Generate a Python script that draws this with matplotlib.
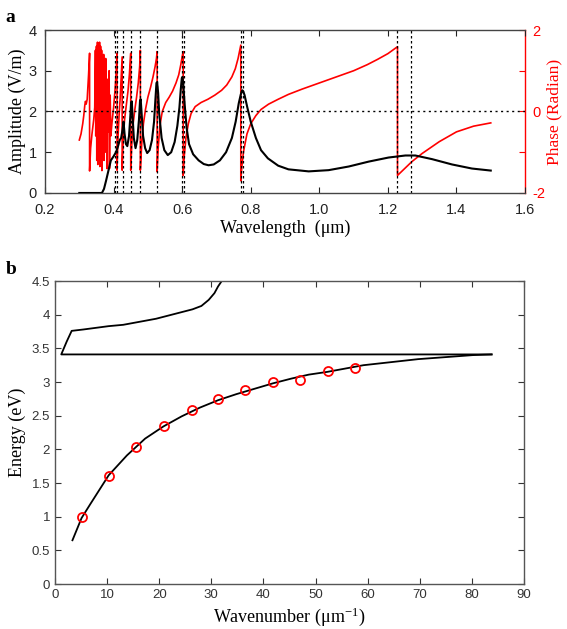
import matplotlib
matplotlib.use("Agg")
import matplotlib.pyplot as plt

plt.rcParams["mathtext.fontset"] = "custom"
plt.rcParams["mathtext.rm"] = "Liberation Serif"
plt.rcParams["mathtext.it"] = "Liberation Serif:italic"

SERIF = "Liberation Serif"
SANS = "Liberation Sans"

# ---------------------------------------------------------------------------
# Panel a: amplitude and phase vs wavelength
# ---------------------------------------------------------------------------
amp_wl = [0.300, 0.366, 0.372, 0.378, 0.385, 0.392, 0.400, 0.407, 0.413, 0.418,
          0.422, 0.426, 0.429, 0.432, 0.436, 0.440, 0.445, 0.449, 0.451, 0.453,
          0.455, 0.459, 0.464, 0.469, 0.474, 0.477, 0.479, 0.481, 0.486, 0.492,
          0.498, 0.505, 0.512, 0.518, 0.522, 0.525, 0.527, 0.530, 0.533, 0.540,
          0.548, 0.558, 0.568, 0.578, 0.586, 0.592, 0.596, 0.599, 0.601, 0.603,
          0.607, 0.613, 0.620, 0.632, 0.648, 0.663, 0.677, 0.692, 0.710, 0.728,
          0.745, 0.756, 0.765, 0.771, 0.775, 0.778, 0.782, 0.790, 0.800, 0.815,
          0.830, 0.850, 0.880, 0.910, 0.969, 1.027, 1.086, 1.144, 1.202, 1.251,
          1.280, 1.329, 1.387, 1.445, 1.500]
amp_val = [0.00, 0.00, 0.10, 0.30, 0.55, 0.80, 0.90, 1.00, 1.15, 1.30,
           1.35, 1.55, 1.75, 1.45, 1.20, 1.15, 1.40, 1.90, 2.20, 2.25,
           1.95, 1.35, 1.10, 1.30, 1.80, 2.25, 2.30, 2.05, 1.40, 1.10,
           0.98, 1.05, 1.30, 1.75, 2.30, 2.70, 2.72, 2.45, 1.95, 1.35,
           1.05, 0.93, 1.00, 1.25, 1.65, 2.10, 2.55, 2.82, 2.85, 2.70,
           2.20, 1.60, 1.20, 0.95, 0.80, 0.71, 0.68, 0.70, 0.80, 1.00,
           1.35, 1.75, 2.20, 2.42, 2.52, 2.50, 2.40, 2.10, 1.75, 1.35,
           1.05, 0.85, 0.67, 0.58, 0.53, 0.56, 0.65, 0.77, 0.87, 0.92,
           0.92, 0.83, 0.70, 0.60, 0.55]

phase_wl = [0.300, 0.305, 0.310, 0.313, 0.316, 0.318, 0.320, 0.323, 0.327, 0.330,
            0.330, 0.333, 0.337, 0.342, 0.345,
            0.347, 0.348, 0.350, 0.351, 0.353, 0.354, 0.356, 0.357, 0.359, 0.360,
            0.362, 0.363, 0.365, 0.366, 0.368, 0.369, 0.371, 0.372, 0.374, 0.375,
            0.377, 0.378, 0.380, 0.381, 0.383, 0.385, 0.387, 0.388, 0.390, 0.392,
            0.395, 0.400, 0.404, 0.407, 0.410, 0.410, 0.413, 0.416, 0.419, 0.422,
            0.425, 0.425, 0.428, 0.432, 0.437, 0.442, 0.446, 0.450, 0.450, 0.453,
            0.457, 0.462, 0.467, 0.472, 0.476, 0.478, 0.478, 0.482, 0.487, 0.493,
            0.500, 0.508, 0.515, 0.521, 0.525, 0.527, 0.527, 0.530, 0.535, 0.542,
            0.552, 0.562, 0.572, 0.582, 0.590, 0.596, 0.600, 0.603, 0.603, 0.606,
            0.611, 0.618, 0.626, 0.638, 0.655, 0.675, 0.695, 0.715, 0.730, 0.745,
            0.755, 0.763, 0.768, 0.771, 0.771, 0.774, 0.779, 0.789, 0.800, 0.815,
            0.830, 0.852, 0.880, 0.910, 0.950, 1.000, 1.050, 1.100, 1.140, 1.170,
            1.200, 1.228, 1.228, 1.270, 1.300, 1.350, 1.400, 1.450, 1.500]
phase_val = [-0.70, -0.55, -0.30, -0.10, 0.15, 0.25, 0.18, 0.30, 0.90, 1.43,
             -1.46, -0.90, -0.55, -0.20, 0.10,
             1.50, -0.60, 1.60, -1.20, 1.70, -1.30, 1.65, -0.90, 1.70, -1.35,
             1.60, -1.00, 1.50, -1.45, 1.20, -0.70, 1.40, -1.20, 0.90, -1.00,
             1.30, -0.80, 0.80, -1.40, 0.60, -0.50, 1.00, -1.40, 0.40, -0.60,
             -0.30, 0.10, 0.50, 0.90, 1.43, -1.44, -0.60, -0.10, 0.30, 0.80,
             1.34, -1.44, -0.70, -0.20, 0.15, 0.50, 0.90, 1.43, -1.44, -0.80,
             -0.30, 0.05, 0.35, 0.70, 1.10, 1.50, -1.44, -0.80, -0.30, 0.05,
             0.35, 0.60, 0.85, 1.10, 1.30, 1.47, -1.48, -0.90, -0.35, 0.00,
             0.22, 0.35, 0.50, 0.70, 0.90, 1.15, 1.35, 1.47, -1.57, -1.10,
             -0.65, -0.30, -0.05, 0.12, 0.22, 0.30, 0.40, 0.52, 0.65, 0.85,
             1.05, 1.30, 1.50, 1.63, -1.70, -1.35, -0.98, -0.55, -0.30, -0.10,
             0.05, 0.18, 0.30, 0.42, 0.55, 0.70, 0.85, 1.00, 1.15, 1.28,
             1.42, 1.59, -1.57, -1.23, -1.03, -0.74, -0.50, -0.36, -0.28]

resonance_wl = [0.403, 0.411, 0.426, 0.451, 0.478, 0.527, 0.600, 0.604,
                0.771, 0.776, 1.228, 1.268]

wl_ticks = [0.2, 0.4, 0.6, 0.8, 1.0, 1.2, 1.4, 1.6]
wl_ticklabels = ["0.2", "0.4", "0.6", "0.8", "1.0", "1.2", "1.4", "1.6"]

# ---------------------------------------------------------------------------
# Panel b: dispersion (energy vs wavenumber)
# ---------------------------------------------------------------------------
lower_k = [3.35, 5.1, 6.8, 10.3, 13.8, 17.3, 20.8, 24.3, 27.8, 31.3, 34.8, 38.3,
           41.8, 45.3, 48.7, 52.2, 55.7, 59.2, 62.7, 66.2, 69.7, 73.2, 76.7,
           80.2, 83.8]
lower_e = [0.65, 0.98, 1.19, 1.615, 1.91, 2.16, 2.34, 2.49, 2.62, 2.73, 2.82,
           2.90, 2.98, 3.05, 3.11, 3.15, 3.20, 3.25, 3.28, 3.31, 3.34, 3.36,
           3.38, 3.40, 3.41]

upper_k = [83.8, 1.2, 2.24, 3.2, 5.4, 10.3, 13.1, 15.9, 19.4, 22.9, 26.4, 28.1,
           29.5, 30.6, 31.3, 32.0]
upper_e = [3.41, 3.41, 3.60, 3.76, 3.78, 3.83, 3.85, 3.89, 3.94, 4.01, 4.08,
           4.13, 4.22, 4.32, 4.42, 4.50]

meas_k = [5.1, 10.3, 15.6, 20.9, 26.2, 31.3, 36.5, 41.8, 47.1, 52.4, 57.6]
meas_e = [1.00, 1.60, 2.03, 2.35, 2.59, 2.75, 2.88, 3.00, 3.03, 3.16, 3.21]

# ---------------------------------------------------------------------------
# Plot
# ---------------------------------------------------------------------------
fig = plt.figure(figsize=(5.67, 6.29), dpi=100)

ax = fig.add_axes([0.0794, 0.6932, 0.8466, 0.2591])
ax2 = ax.twinx()

for x in resonance_wl:
    ax.axvline(x, color="black", linestyle=(0, (2, 2)), linewidth=0.9, zorder=1)
ax.axhline(2, color="black", linestyle=(0, (1.5, 2.5)), linewidth=1.0, zorder=1)

ax2.plot(phase_wl, phase_val, color="red", linewidth=1.2, zorder=2)
ax.plot(amp_wl, amp_val, color="black", linewidth=1.5, zorder=3)
ax.set_zorder(ax2.get_zorder() + 1)
ax.patch.set_visible(False)

ax.set_xlim(0.2, 1.6)
ax.set_ylim(0, 4)
ax2.set_ylim(-2, 2)
ax.set_xticks(wl_ticks)
ax.set_xticklabels(wl_ticklabels)
ax.set_yticks([0, 1, 2, 3, 4])
ax2.set_yticks([-2, -1, 0, 1, 2])
ax2.set_yticklabels(["-2", "", "0", "", "2"])

ax.tick_params(direction="in", top=True, right=False, length=4, width=0.8,
               labelsize=10.5, colors="#222222")
ax.tick_params(axis="x", pad=7)
ax.tick_params(axis="y", pad=6)
ax2.tick_params(direction="in", length=4, width=0.8, labelsize=10.5,
                colors="red", pad=5)
for lbl in ax.get_xticklabels() + ax.get_yticklabels() + ax2.get_yticklabels():
    lbl.set_family(SANS)
for s in ("left", "top", "bottom"):
    ax.spines[s].set_color("#444444")
    ax.spines[s].set_linewidth(1.0)
ax2.spines["right"].set_color("red")
ax2.spines["right"].set_linewidth(1.0)
for s in ("left", "top", "bottom"):
    ax2.spines[s].set_visible(False)
ax.spines["right"].set_visible(False)

ax.set_xlabel("Wavelength  (\u03bcm)", family=SERIF, fontsize=13, labelpad=2)
ax.set_ylabel("Amplitude (V/m)", family=SERIF, fontsize=13, labelpad=2)
ax2.set_ylabel("Phase (Radian)", family=SERIF, fontsize=12.5, color="red",
               labelpad=1)

fig.text(0.01, 0.985, "a", family=SERIF, fontsize=14, fontweight="bold",
         va="top", ha="left")

# panel b
bx = fig.add_axes([0.097, 0.0715, 0.827, 0.4817])
bx.plot(upper_k, upper_e, color="black", linewidth=1.3)
bx.plot(lower_k, lower_e, color="black", linewidth=1.3)
bx.plot(meas_k, meas_e, linestyle="none", marker="o", markersize=6.5,
        markerfacecolor="none", markeredgecolor="red", markeredgewidth=1.3)

bx.set_xlim(0, 90)
bx.set_ylim(0, 4.5)
bx.set_xticks(range(0, 91, 10))
bx.set_yticks([0, 0.5, 1, 1.5, 2, 2.5, 3, 3.5, 4, 4.5])
bx.set_yticklabels(["0", "0.5", "1", "1.5", "2", "2.5", "3", "3.5", "4", "4.5"])
bx.tick_params(direction="in", top=True, right=True, length=4, width=0.8,
               labelsize=9.5, colors="#333333")
for lbl in bx.get_xticklabels() + bx.get_yticklabels():
    lbl.set_family(SANS)
for s in bx.spines.values():
    s.set_color("#555555")
    s.set_linewidth(1.0)

bx.set_xlabel("Wavenumber (\u03bcm$^{-1}$)", family=SERIF, fontsize=13,
              labelpad=3)
bx.set_ylabel("Energy (eV)", family=SERIF, fontsize=13, labelpad=4)

fig.text(0.01, 0.585, "b", family=SERIF, fontsize=14, fontweight="bold",
         va="top", ha="left")

fig.savefig("out.png", dpi=100)
